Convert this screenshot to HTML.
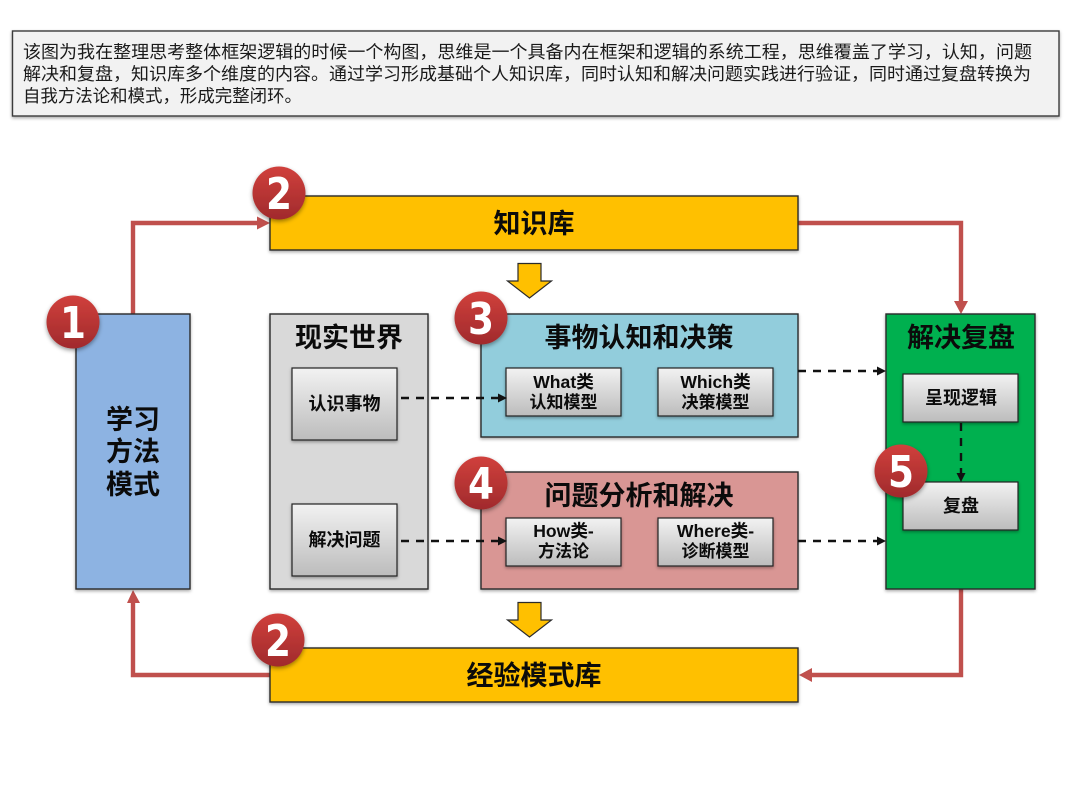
<!DOCTYPE html>
<html lang="zh">
<head>
<meta charset="utf-8">
<style>
html,body{margin:0;padding:0;background:#fff;width:1080px;height:810px;overflow:hidden}
svg{display:block}
text{font-family:"Liberation Sans","Noto Sans CJK SC",sans-serif;fill:#0b0b0b}
.b{font-weight:700;text-anchor:middle}
.t{font-size:17.4px;fill:#1a1a1a}
.big{font-size:27px}
.sm{font-size:17px}
.lat{font-size:17.6px}
.md{font-size:18px}
.num{font-size:44px;fill:#fff;font-weight:700;text-anchor:middle;font-family:"DejaVu Sans","Liberation Sans",sans-serif}
.box{stroke:#2b2b2b;stroke-width:1.4;filter:url(#s)}
.inner{fill:url(#g);stroke:#222;stroke-width:1.2;filter:url(#s)}
.red{fill:none;stroke:#c0504d;stroke-width:4.4}
.dash{fill:none;stroke:#111;stroke-width:2.4;stroke-dasharray:8 7}
</style>
</head>
<body>
<svg width="1080" height="810" viewBox="0 0 1080 810" xmlns="http://www.w3.org/2000/svg">
<defs>
<linearGradient id="g" x1="0" y1="0" x2="0" y2="1"><stop offset="0" stop-color="#f2f2f2"/><stop offset="1" stop-color="#bcbcbc"/></linearGradient>
<linearGradient id="r" x1="0" y1="0" x2="0" y2="1"><stop offset="0" stop-color="#d0403c"/><stop offset="1" stop-color="#a02a2c"/></linearGradient>
<filter id="s" x="-10%" y="-10%" width="120%" height="125%"><feDropShadow dx="0" dy="1.5" stdDeviation="1.5" flood-color="#000" flood-opacity=".35"/></filter>
<filter id="c" x="-20%" y="-20%" width="140%" height="150%"><feDropShadow dx="0" dy="2" stdDeviation="2" flood-color="#000" flood-opacity=".4"/></filter>
</defs>

<rect x="12.5" y="31" width="1046.5" height="85" fill="#f2f2f2" stroke="#3a3a3a" stroke-width="1.4" filter="url(#s)"/>
<text class="t" x="23" y="58" textLength="1009" lengthAdjust="spacingAndGlyphs">该图为我在整理思考整体框架逻辑的时候一个构图，思维是一个具备内在框架和逻辑的系统工程，思维覆盖了学习，认知，问题</text>
<text class="t" x="23" y="80" textLength="1008" lengthAdjust="spacingAndGlyphs">解决和复盘，知识库多个维度的内容。通过学习形成基础个人知识库，同时认知和解决问题实践进行验证，同时通过复盘转换为</text>
<text class="t" x="23" y="102" textLength="279" lengthAdjust="spacingAndGlyphs">自我方法论和模式，形成完整闭环。</text>

<path class="red" d="M133 314V223H258"/>
<path d="M257 216.500L270 223L257 229.500Z" fill="#c0504d"/>
<path class="red" d="M798 223H961V302"/>
<path d="M954 301L961 314L968 301Z" fill="#c0504d"/>
<path class="red" d="M961 589V675H811"/>
<path d="M812 668L799 675L812 682Z" fill="#c0504d"/>
<path class="red" d="M270 675H133V602"/>
<path d="M127 603L133 590L140 603Z" fill="#c0504d"/>

<rect class="box" x="76" y="314" width="114" height="275" fill="#8db3e2"/>
<text class="b big" x="133" y="429">学习</text>
<text class="b big" x="133" y="461">方法</text>
<text class="b big" x="133" y="494">模式</text>

<rect class="box" x="270" y="196" width="528" height="54" fill="#ffc000"/>
<text class="b big" x="534" y="233">知识库</text>

<rect class="box" x="270" y="648" width="528" height="54" fill="#ffc000"/>
<text class="b big" x="534" y="685">经验模式库</text>

<path d="M518 263.500H541V281H551.500L529.500 298L507.500 281H518Z" fill="#ffc000" stroke="#2b2b2b" stroke-width="1.200"/>
<path d="M518 602.500H541V620H551.500L529.500 637L507.500 620H518Z" fill="#ffc000" stroke="#2b2b2b" stroke-width="1.200"/>

<rect class="box" x="270" y="314" width="158" height="275" fill="#d9d9d9"/>
<text class="b big" x="349" y="347">现实世界</text>
<rect class="inner" x="292" y="368" width="105" height="72"/>
<text class="b md" x="344.500" y="410">认识事物</text>
<rect class="inner" x="292" y="504" width="105" height="72"/>
<text class="b md" x="344.500" y="546">解决问题</text>

<rect class="box" x="481" y="314" width="317" height="123" fill="#92cddc"/>
<text class="b big" x="639" y="347">事物认知和决策</text>
<rect class="inner" x="506" y="368" width="115" height="48"/>
<text class="b lat" x="563.500" y="388">What类</text>
<text class="b sm" x="563.500" y="408">认知模型</text>
<rect class="inner" x="658" y="368" width="115" height="48"/>
<text class="b lat" x="715.500" y="388">Which类</text>
<text class="b sm" x="715.500" y="408">决策模型</text>

<rect class="box" x="481" y="472" width="317" height="117" fill="#d99694"/>
<text class="b big" x="639" y="505">问题分析和解决</text>
<rect class="inner" x="506" y="518" width="115" height="48"/>
<text class="b lat" x="563.500" y="537">How类-</text>
<text class="b sm" x="563.500" y="557">方法论</text>
<rect class="inner" x="658" y="518" width="115" height="48"/>
<text class="b lat" x="715.500" y="537">Where类-</text>
<text class="b sm" x="715.500" y="557">诊断模型</text>

<rect class="box" x="886" y="314" width="149" height="275" fill="#00b050"/>
<text class="b big" x="961" y="347">解决复盘</text>
<rect class="inner" x="903" y="374" width="115" height="48"/>
<text class="b md" x="961" y="404">呈现逻辑</text>
<rect class="inner" x="903" y="482" width="115" height="48"/>
<text class="b md" x="961" y="512">复盘</text>

<path class="dash" d="M401 398H498"/>
<path d="M498 393.500L507 398L498 402.500Z" fill="#111"/>
<path class="dash" d="M401 541H498"/>
<path d="M498 536.500L507 541L498 545.500Z" fill="#111"/>
<path class="dash" d="M798 371H877"/>
<path d="M877 366.500L886 371L877 375.500Z" fill="#111"/>
<path class="dash" d="M798 541H877"/>
<path d="M877 536.500L886 541L877 545.500Z" fill="#111"/>
<path class="dash" d="M961 423V473"/>
<path d="M956.500 473L961 482L965.500 473Z" fill="#111"/>

<circle cx="73" cy="322" r="26.500" fill="url(#r)" filter="url(#c)"/>
<text class="num" x="73" y="338" textLength="26" lengthAdjust="spacingAndGlyphs">1</text>
<circle cx="279" cy="193" r="26.500" fill="url(#r)" filter="url(#c)"/>
<text class="num" x="279" y="209" textLength="26" lengthAdjust="spacingAndGlyphs">2</text>
<circle cx="481" cy="318" r="26.500" fill="url(#r)" filter="url(#c)"/>
<text class="num" x="481" y="334" textLength="26" lengthAdjust="spacingAndGlyphs">3</text>
<circle cx="481" cy="483" r="26.500" fill="url(#r)" filter="url(#c)"/>
<text class="num" x="481" y="499" textLength="26" lengthAdjust="spacingAndGlyphs">4</text>
<circle cx="901" cy="471" r="26.500" fill="url(#r)" filter="url(#c)"/>
<text class="num" x="901" y="487" textLength="26" lengthAdjust="spacingAndGlyphs">5</text>
<circle cx="278" cy="640" r="26.500" fill="url(#r)" filter="url(#c)"/>
<text class="num" x="278" y="656" textLength="26" lengthAdjust="spacingAndGlyphs">2</text>
</svg>
</body>
</html>
